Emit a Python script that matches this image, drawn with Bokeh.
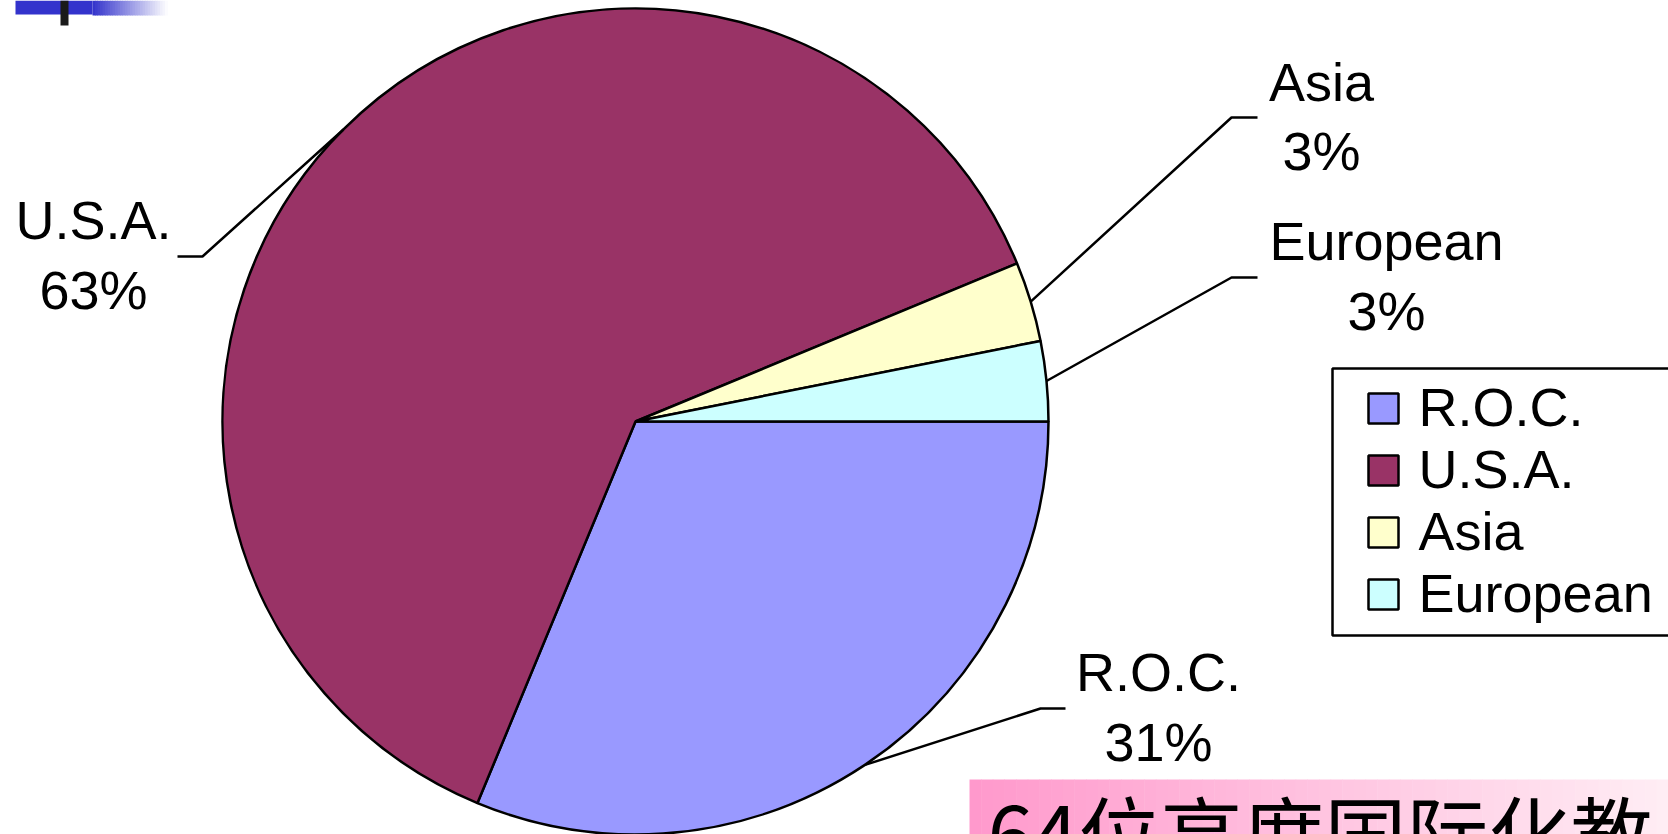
import math
from bokeh.plotting import figure
from bokeh.models import Range1d, ColumnDataSource
from bokeh.embed import file_html
from bokeh.resources import INLINE
from bokeh.core.properties import value

# ---------------- data ----------------
categories = ["R.O.C.", "U.S.A.", "Asia", "European"]
counts = [20, 40, 2, 2]
colors = ["#9999FF", "#993366", "#FFFFCC", "#CCFFFF"]
caption = "64位高度国际化教"

total = sum(counts)
pct_labels = [f"{int(c * 100 / total + 0.5)}%" for c in counts]

# ---------------- layout (reference pixel space) ----------------
W, H = 1668, 834
CX, CY, R = 635, 421, 413
FONT = "Liberation Sans"
FS = "54px"
TXT_DY = 21  # renderer places alphabetic baseline lower; compensate


def X(px):
    return px - CX


def Y(py):
    return CY - py


# leader line elbows / ends and label anchors, per category (ref pixels)
leader_elbow = {"R.O.C.": (1040, 708), "U.S.A.": (202, 256), "Asia": (1231, 117), "European": (1231, 277)}
leader_end = {"R.O.C.": (1065, 708), "U.S.A.": (177, 256), "Asia": (1257, 117), "European": (1257, 277)}
label_pos = {"R.O.C.": (1158, 692, 762), "U.S.A.": (93, 240, 310), "Asia": (1321, 102, 171), "European": (1386, 261, 331)}

p = figure(width=W, height=H,
           x_range=Range1d(X(0), X(W)), y_range=Range1d(Y(H), Y(0)),
           output_backend="svg", toolbar_location=None, min_border=0)
p.axis.visible = False
p.grid.visible = False
p.outline_line_color = None
p.background_fill_color = "white"
p.border_fill_color = "white"

# ---------------- decorations ----------------
p.quad(left=X(15), right=X(92), top=Y(0), bottom=Y(14), fill_color="#3333CC", line_color=None)
n = 30
gl, gr, gt, gb, gc = [], [], [], [], []
for i in range(n):
    x0 = 92 + (167 - 92) * i / n
    x1 = 92 + (167 - 92) * (i + 1) / n
    t = (i + 0.5) / n
    r_ = int(51 + (255 - 51) * t)
    g_ = int(51 + (255 - 51) * t)
    b_ = int(204 + (255 - 204) * t)
    gl.append(X(x0)); gr.append(X(x1) + 0.5); gt.append(Y(0)); gb.append(Y(15))
    gc.append(f"#{r_:02x}{g_:02x}{b_:02x}")
p.quad(left=gl, right=gr, top=gt, bottom=gb, fill_color=gc, line_color=None)
p.quad(left=X(60), right=X(68), top=Y(0), bottom=Y(25), fill_color="#1a1a1a", line_color=None)

n = 60
bl, br, bt, bb, bc = [], [], [], [], []
for i in range(n):
    x0 = 969 + (1668 - 969) * i / n
    x1 = 969 + (1668 - 969) * (i + 1) / n
    t = (i + 0.5) / n
    g_ = int(0x99 + (0xEE - 0x99) * t)
    b_ = int(0xCC + (0xF5 - 0xCC) * t)
    bl.append(X(x0)); br.append(X(x1) + 0.5); bt.append(Y(779)); bb.append(Y(840))
    bc.append(f"#ff{g_:02x}{b_:02x}")
p.quad(left=bl, right=br, top=bt, bottom=bb, fill_color=bc, line_color=None)
p.text(x=[X(987)], y=[Y(770)], text=[caption], text_font=value("Noto Sans CJK SC"),
       text_font_size="82px", text_color="black", text_baseline="top", text_align="left")

# ---------------- pie ----------------
starts, ends, mids = [], [], []
cum = 0
for c in counts:
    a0 = cum / total * 2 * math.pi
    a1 = (cum + c) / total * 2 * math.pi
    starts.append(-a1)
    ends.append(-a0)
    mids.append(-(a0 + a1) / 2)
    cum += c

src = ColumnDataSource(dict(cat=categories, start=starts, end=ends, color=colors))
p.wedge(x=0, y=0, radius=R, start_angle="start", end_angle="end", fill_color="color",
        line_color="black", line_width=2.5, source=src)

lxs, lys = [], []
for cat, m in zip(categories, mids):
    ex, ey = R * math.cos(m), R * math.sin(m)
    bx, by = leader_elbow[cat]
    tx, ty = leader_end[cat]
    lxs.append([ex, X(bx), X(tx)])
    lys.append([ey, Y(by), Y(ty)])
p.multi_line(xs=lxs, ys=lys, line_color="black", line_width=2.5)

nx, ny, py_ = [], [], []
for cat in categories:
    cx, b1, b2 = label_pos[cat]
    nx.append(X(cx)); ny.append(Y(b1 - TXT_DY)); py_.append(Y(b2 - TXT_DY))
p.text(x=nx, y=ny, text=categories, text_font=value(FONT), text_font_size=FS,
       text_align="center", text_baseline="alphabetic", text_color="black")
p.text(x=nx, y=py_, text=pct_labels, text_font=value(FONT), text_font_size=FS,
       text_align="center", text_baseline="alphabetic", text_color="black")

# ---------------- legend (Excel-style box) ----------------
p.quad(left=X(1332), right=X(1720), top=Y(368), bottom=Y(635), fill_color="white",
       line_color="black", line_width=2.5)
row_y = [408 + 62 * i for i in range(len(categories))]
p.rect(x=[X(1383)] * len(categories), y=[Y(v) for v in row_y], width=30, height=30,
       fill_color=colors, line_color="black", line_width=2.5)
p.text(x=[X(1418)] * len(categories), y=[Y(v + 19 - TXT_DY) for v in row_y], text=categories,
       text_font=value(FONT), text_font_size=FS, text_align="left",
       text_baseline="alphabetic", text_color="black")

open("out.html", "w").write(file_html(p, INLINE))
